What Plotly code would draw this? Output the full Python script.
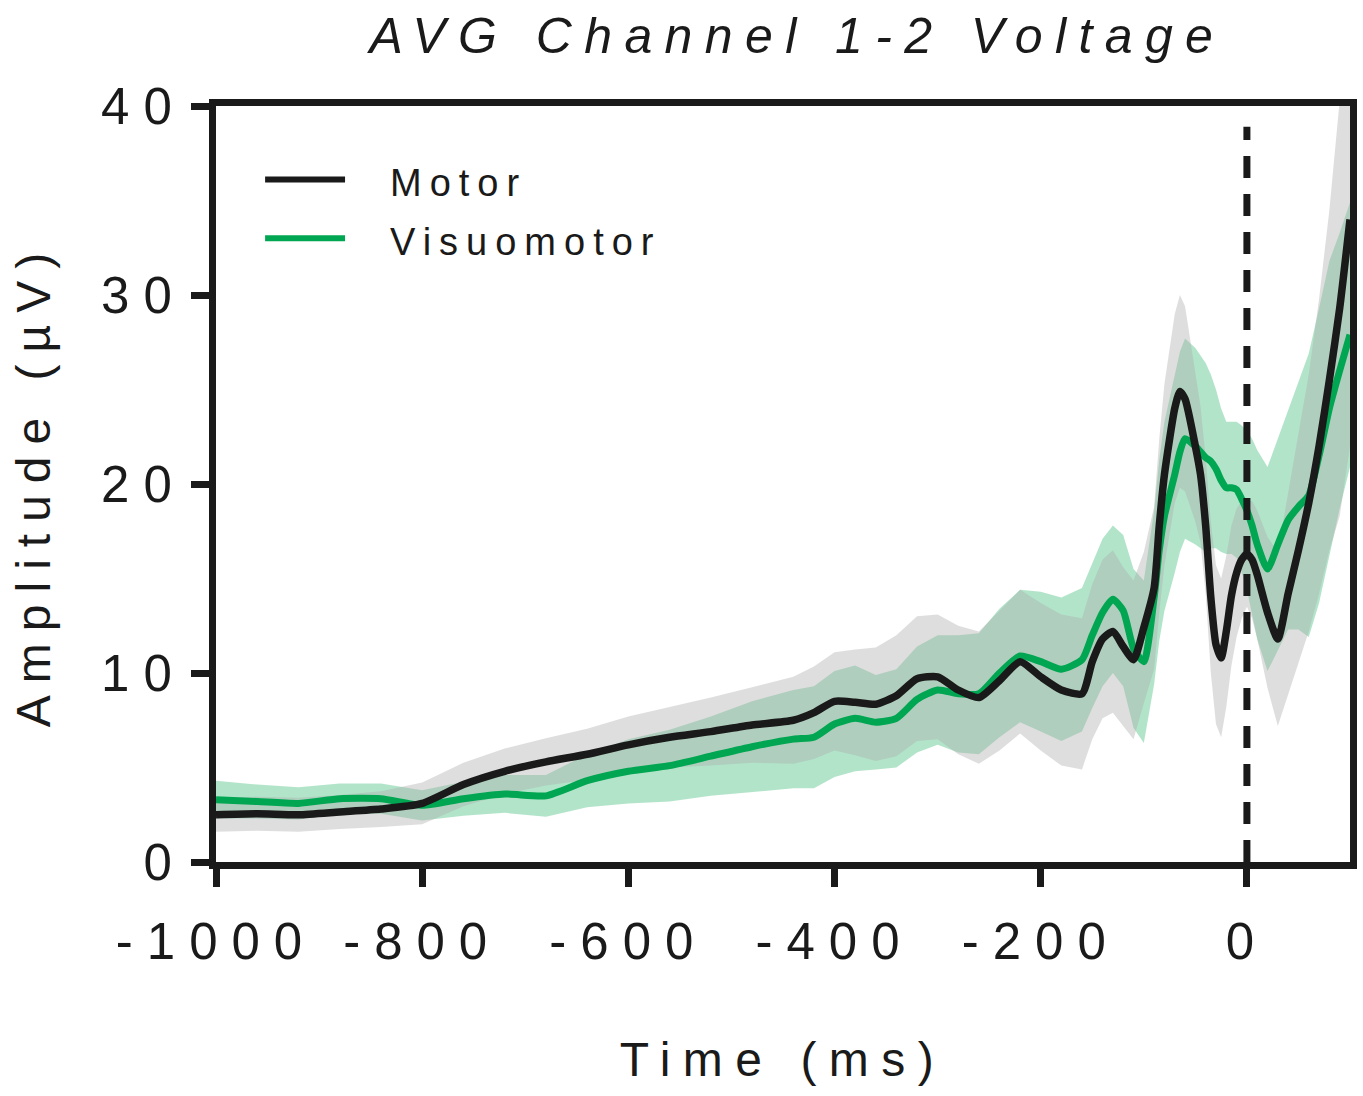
import plotly.graph_objects as go

# ---------------- data ----------------
time_ms = [-1000, -960, -920, -880, -840, -800, -760, -720, -680, -640, -600, -560, -520, -480,
           -440, -420, -400, -380, -360, -340, -320, -300, -280, -260, -240, -220, -200, -180,
           -160, -150, -140, -130, -120, -110, -100, -90, -85, -80, -70, -65, -60, -50, -45,
           -40, -35, -30, -25, -20, -15, -10, -5, 0, 5, 10, 20, 30, 40, 50, 60, 70, 80, 90, 100]

motor_mean = [2.5, 2.55, 2.5, 2.65, 2.8, 3.1, 4.1, 4.8, 5.3, 5.7, 6.2, 6.6, 6.9, 7.25,
              7.5, 7.9, 8.5, 8.45, 8.35, 8.8, 9.7, 9.8, 9.1, 8.7, 9.6, 10.6, 9.8, 9.1,
              8.9, 10.6, 11.8, 12.2, 11.4, 10.7, 12.4, 14.5, 17.8, 20.5, 24.0, 24.9, 24.5, 22.0, 20.5,
              17.8, 14.0, 11.5, 10.8, 12.2, 14.1, 15.3, 16.0, 16.3, 16.0, 15.2, 13.2, 11.8, 14.2, 16.5,
              19.0, 22.0, 25.5, 29.3, 34.0]

motor_sem = [0.9, 0.9, 0.9, 0.9, 0.95, 1.1, 1.15, 1.2, 1.25, 1.35, 1.5, 1.6, 1.8, 2.0,
             2.3, 2.45, 2.6, 2.8, 3.0, 3.2, 3.3, 3.3, 3.4, 3.5, 3.7, 3.8, 3.9, 4.0,
             4.0, 4.1, 4.2, 4.3, 4.2, 4.2, 4.0, 4.3, 4.6, 4.8, 5.0, 5.1, 4.9, 4.0, 3.6,
             3.6, 4.0, 4.2, 4.2, 4.0, 3.7, 3.4, 3.1, 2.8, 3.1, 3.4, 4.0, 4.6, 5.3, 6.0,
             6.8, 7.8, 9.0, 11.0, 12.0]

visuo_mean = [3.3, 3.2, 3.1, 3.35, 3.35, 3.0, 3.35, 3.6, 3.5, 4.3, 4.8, 5.1, 5.6, 6.1,
              6.5, 6.6, 7.3, 7.6, 7.4, 7.6, 8.6, 9.1, 8.9, 8.9, 10.0, 10.9, 10.6, 10.2,
              10.7, 12.0, 13.2, 13.9, 13.3, 11.3, 10.6, 14.0, 16.5, 18.3, 20.5, 21.7, 22.4, 22.0, 21.7,
              21.4, 21.2, 20.8, 20.2, 19.8, 19.8, 19.7, 19.2, 18.6, 17.8, 16.8, 15.5, 16.8, 18.1, 18.8,
              19.4, 21.5, 24.0, 26.0, 27.9]

visuo_sem = [1.0, 0.9, 0.85, 0.8, 0.8, 0.8, 0.9, 1.0, 1.1, 1.4, 1.7, 1.9, 2.1, 2.4,
             2.6, 2.7, 2.8, 2.8, 2.5, 2.6, 2.8, 2.9, 3.1, 3.2, 3.4, 3.5, 3.7, 3.8,
             3.8, 3.85, 3.9, 3.9, 4.0, 4.2, 4.3, 4.6, 4.8, 5.0, 5.2, 5.3, 5.3, 5.2, 5.1,
             5.0, 4.6, 4.2, 3.8, 3.5, 3.5, 3.6, 3.9, 4.2, 4.6, 5.0, 5.4, 5.6, 5.8, 6.5,
             7.5, 7.8, 7.8, 7.3, 7.0]

x_tick_vals = [-1000, -800, -600, -400, -200, 0]
y_tick_vals = [0, 10, 20, 30, 40]
series_names = ["Motor", "Visuomotor"]
title_text = "AVG Channel 1-2 Voltage"
x_title = "Time (ms)"
y_title = "Amplitude (\u00b5V)"

# ---------------- styles ----------------
FONT = "Liberation Sans, Arial, sans-serif"
BLACK = "#1a1a1a"
GREEN = "#00a651"


def spaced(text, px):
    return f'<span style="letter-spacing:{px}px">{text}</span>'


def band(x, mean, sem):
    upper = [m + s for m, s in zip(mean, sem)]
    lower = [m - s for m, s in zip(mean, sem)]
    return x + x[::-1], upper + lower[::-1]


fig = go.Figure()

# Visuomotor band (below), then Motor band on top (translucent grey)
bx, by = band(time_ms, visuo_mean, visuo_sem)
fig.add_trace(go.Scatter(x=bx, y=by, fill="toself", mode="lines", line=dict(width=0),
                         fillcolor="rgba(0,165,80,0.30)", hoverinfo="skip", showlegend=False))
bx, by = band(time_ms, motor_mean, motor_sem)
fig.add_trace(go.Scatter(x=bx, y=by, fill="toself", mode="lines", line=dict(width=0),
                         fillcolor="rgba(172,172,172,0.40)", hoverinfo="skip", showlegend=False))

fig.add_trace(go.Scatter(x=time_ms, y=visuo_mean, mode="lines", name=series_names[1],
                         line=dict(color=GREEN, width=7, shape="spline", smoothing=0.6),
                         showlegend=False))
fig.add_trace(go.Scatter(x=time_ms, y=motor_mean, mode="lines", name=series_names[0],
                         line=dict(color=BLACK, width=7.5, shape="spline", smoothing=0.6),
                         showlegend=False))

# dashed reference line at t = 0
fig.add_shape(type="line", xref="x", yref="y", x0=0, x1=0, y0=0, y1=38.9,
              line=dict(color=BLACK, width=7, dash="22px,16px"), layer="above")

# manual legend (long line keys)
legend_rows = [(series_names[0], BLACK, 0.9028, 0.8975),
               (series_names[1], GREEN, 0.8252, 0.8199)]
for name, col, yl, yt in legend_rows:
    fig.add_shape(type="line", xref="paper", yref="paper", x0=0.0433, x1=0.1138, y0=yl, y1=yl,
                  line=dict(color=col, width=6))
    fig.add_annotation(xref="paper", yref="paper", x=0.152, y=yt, xanchor="left", yanchor="middle",
                       text=spaced(name, 8), showarrow=False,
                       font=dict(family=FONT, size=38, color=BLACK))

axis_common = dict(showline=True, linewidth=7, linecolor=BLACK, mirror=True,
                   ticks="outside", ticklen=18, tickwidth=7, tickcolor=BLACK,
                   showgrid=False, zeroline=False, automargin=False,
                   tickfont=dict(family=FONT, size=51, color=BLACK))

fig.update_layout(
    width=1363, height=1096,
    margin=dict(l=216, r=13, t=106, b=234),
    paper_bgcolor="white", plot_bgcolor="white",
    title=dict(text="<i>" + spaced(title_text, 12.4) + "</i>", x=0.585, xanchor="center",
               y=0.968, yanchor="middle", font=dict(family=FONT, size=50, color=BLACK)),
    xaxis=dict(range=[-1000, 100], tickvals=x_tick_vals,
               ticktext=[spaced(str(v), 14) for v in x_tick_vals],
               ticklabelstandoff=11,
               title=dict(text=spaced(x_title, 12.5), standoff=76,
                          font=dict(family=FONT, size=48, color=BLACK)),
               **axis_common),
    yaxis=dict(range=[0, 40], tickvals=y_tick_vals,
               ticktext=[spaced(str(v), 14) for v in y_tick_vals],
               ticklabelstandoff=-5,
               title=dict(text=spaced(y_title, 12), standoff=38,
                          font=dict(family=FONT, size=48, color=BLACK)),
               **axis_common),
    showlegend=False,
)

fig.write_html("out.html")
